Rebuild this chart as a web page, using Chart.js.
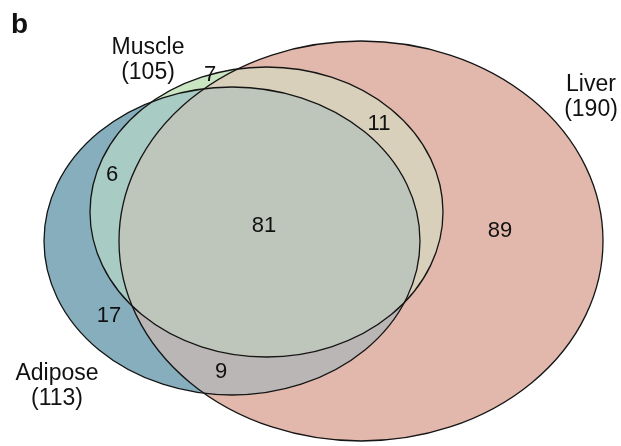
<!DOCTYPE html>
<html>
<head>
<meta charset="utf-8">
<script src="https://cdn.jsdelivr.net/npm/chart.js@4.4.1/dist/chart.umd.min.js"></script>
<style>
html,body{margin:0;padding:0;background:#fff;}
#wrap{width:621px;height:446px;}
</style>
</head>
<body>
<div id="wrap"><canvas id="c" width="621" height="446"></canvas></div>
<script>
// ---- data ----
const panelLabel = 'b';
const setNames = ['Muscle', 'Liver', 'Adipose'];
const setTotals = [105, 190, 113];
const regionNames = ['Muscle only', 'Muscle ∩ Liver', 'Muscle ∩ Adipose', 'All three', 'Liver only', 'Adipose only', 'Adipose ∩ Liver'];
const regionCounts = [7, 11, 6, 81, 89, 17, 9];

// ---- layout (data-space geometry, kept apart from the values) ----
const ellipseCX = [266.5, 361, 232];
const ellipseCY = [212, 241, 241];
const ellipseRX = [176.5, 242, 188];
const ellipseRY = [145, 200, 154];
const regionLabelX = [210, 379, 112, 264, 500, 109, 221];
const regionLabelY = [75, 124, 175, 226, 231, 316, 372];
const setLabelX = [148, 591, 57];
const setLabelY = [48, 85, 374];

// ---- styles ----
const colMuscle = '#c9e5c2', colLiver = '#e2b8ac', colAdipose = '#87aebd';
const colML = '#d8d0ba', colAM = '#a8cbc4', colAL = '#bbb6b6', colAll = '#bec5ba';
const FONT = '"Liberation Sans", Arial, Helvetica, sans-serif';

const vennPlugin = {
  id: 'venn',
  beforeDatasetsDraw(chart) {
    const ctx = chart.ctx, xs = chart.scales.x, ys = chart.scales.y;
    const path = (i) => {
      const cx = xs.getPixelForValue(ellipseCX[i]);
      const cy = ys.getPixelForValue(ellipseCY[i]);
      const rx = Math.abs(xs.getPixelForValue(ellipseCX[i] + ellipseRX[i]) - cx);
      const ry = Math.abs(ys.getPixelForValue(ellipseCY[i] + ellipseRY[i]) - cy);
      ctx.beginPath();
      ctx.ellipse(cx, cy, rx, ry, 0, 0, Math.PI * 2);
    };
    const fill = (i, col, clips) => {
      ctx.save();
      (clips || []).forEach(k => { path(k); ctx.clip(); });
      path(i);
      ctx.fillStyle = col;
      ctx.fill();
      ctx.restore();
    };
    // M=0, L=1, A=2
    fill(1, colLiver);
    fill(0, colMuscle);
    fill(2, colAdipose);
    fill(1, colML, [0]);
    fill(0, colAM, [2]);
    fill(1, colAL, [2]);
    fill(1, colAll, [0, 2]);
    ctx.save();
    ctx.strokeStyle = '#151515';
    ctx.lineWidth = 1.3;
    [0, 1, 2].forEach(i => { path(i); ctx.stroke(); });
    ctx.restore();
  },
  afterDatasetsDraw(chart) {
    const ctx = chart.ctx, xs = chart.scales.x, ys = chart.scales.y;
    ctx.save();
    ctx.fillStyle = '#111';
    ctx.textAlign = 'center';
    ctx.textBaseline = 'middle';
    ctx.font = '22px ' + FONT;
    regionCounts.forEach((v, i) => {
      ctx.fillText(String(v), xs.getPixelForValue(regionLabelX[i]), ys.getPixelForValue(regionLabelY[i]));
    });
    ctx.font = '23px ' + FONT;
    setNames.forEach((n, i) => {
      const x = xs.getPixelForValue(setLabelX[i]);
      const y = ys.getPixelForValue(setLabelY[i]);
      ctx.fillText(n, x, y);
      ctx.fillText('(' + setTotals[i] + ')', x, ys.getPixelForValue(setLabelY[i] + 25));
    });
    ctx.textAlign = 'left';
    ctx.textBaseline = 'alphabetic';
    ctx.font = 'bold 28px ' + FONT;
    ctx.fillText(panelLabel, xs.getPixelForValue(11), ys.getPixelForValue(33));
    ctx.restore();
  }
};

new Chart(document.getElementById('c'), {
  type: 'scatter',
  data: {
    datasets: [{
      label: 'Regions',
      data: regionCounts.map((v, i) => ({ x: regionLabelX[i], y: regionLabelY[i], v })),
      pointRadius: 0,
      pointHoverRadius: 0
    }]
  },
  options: {
    responsive: false,
    animation: false,
    devicePixelRatio: 1,
    layout: { padding: 0 },
    plugins: { legend: { display: false }, tooltip: { enabled: false } },
    scales: {
      x: { type: 'linear', min: 0, max: 621, display: false },
      y: { type: 'linear', min: 0, max: 446, reverse: true, display: false }
    }
  },
  plugins: [vennPlugin]
});
</script>
</body>
</html>
